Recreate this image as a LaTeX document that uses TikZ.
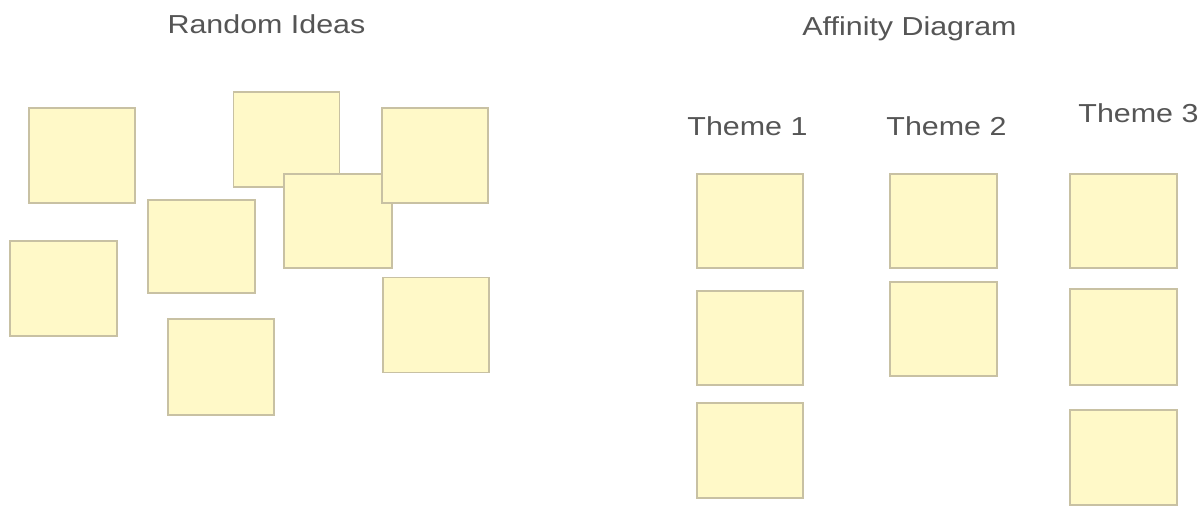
\documentclass[tikz,border=0pt]{standalone}
\usepackage{fontspec}
\setmainfont{Liberation Sans}
\definecolor{notefill}{HTML}{FFF9C8}
\definecolor{noteedge}{HTML}{C8C1A3}
\definecolor{labelgray}{HTML}{555555}
\begin{document}
\begin{tikzpicture}[x=1pt,y=-1pt,
  note/.style={draw=noteedge, fill=notefill, line width=1.4pt, minimum width=106pt, minimum height=95pt, inner sep=0pt, outer sep=0pt},
  title/.style={text=labelgray, font=\fontsize{26}{30}\selectfont, xscale=1.17, anchor=base, inner sep=0pt}]
\useasboundingbox (0,0) rectangle (1198,506);
\clip (0,0) rectangle (1198,506);
\fill[white] (0,0) rectangle (1198,506);
% titles
\node[title] (rand) at (266.5,33) {Random Ideas};
\node[title] (aff) at (909.5,35) {Affinity Diagram};
\node[title] (th1) at (747.5,135) {Theme 1};
\node[title] (th2) at (946.5,135) {Theme 2};
\node[title] (th3) at (1138.5,122) {Theme 3};
% random notes
\node[note] (a) at (82,155.5) {};
\node[note] (b) at (286.5,139.5) {};
\node[note, minimum width=108pt, minimum height=94pt] (d) at (338,221) {};
\node[note] (c) at (435,155.5) {};
\node[note, minimum width=107pt, minimum height=93pt] (e) at (201.5,246.5) {};
\node[note, minimum width=107pt] (f) at (63.5,288.5) {};
\node[note, minimum height=96pt] (g) at (221,367) {};
\node[note] (h) at (436,325) {};
% theme 1
\node[note, minimum height=94pt] (t1a) at (750,221) {};
\node[note, minimum height=94pt] (t1b) at (750,338) {};
\node[note] (t1c) at (750,450.5) {};
% theme 2
\node[note, minimum width=107pt, minimum height=94pt] (t2a) at (943.5,221) {};
\node[note, minimum width=107pt, minimum height=94pt] (t2b) at (943.5,329) {};
% theme 3
\node[note, minimum width=107pt, minimum height=94pt] (t3a) at (1123.5,221) {};
\node[note, minimum width=107pt, minimum height=96pt] (t3b) at (1123.5,337) {};
\node[note, minimum width=107pt] (t3c) at (1123.5,457.5) {};
\end{tikzpicture}
\end{document}
